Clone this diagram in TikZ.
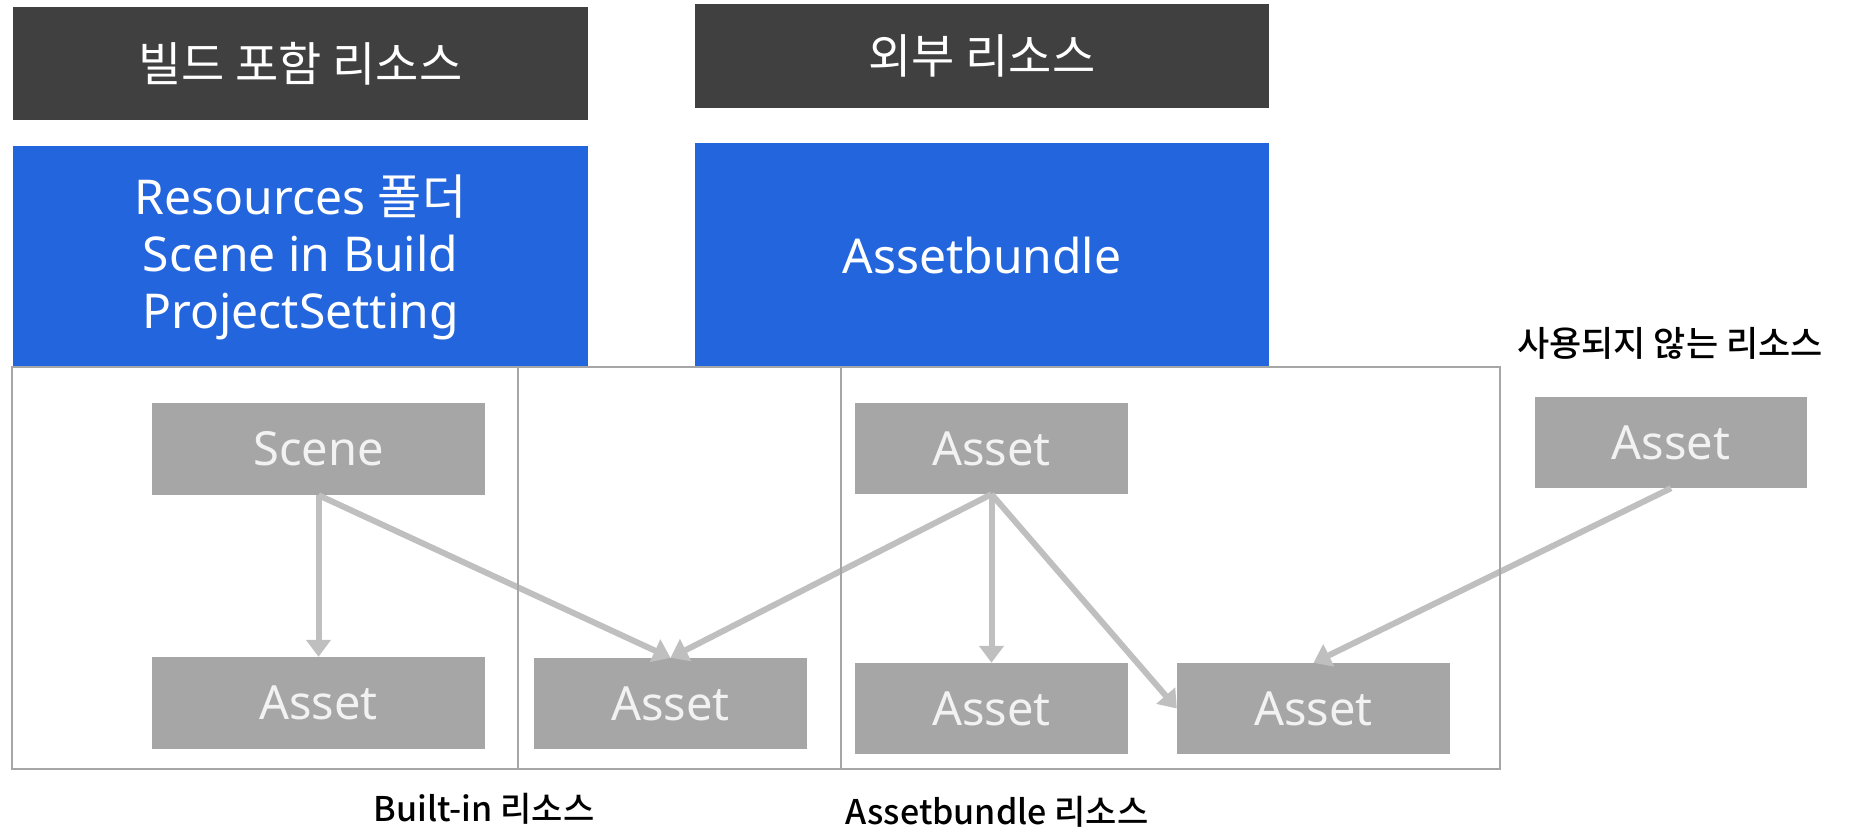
\documentclass[tikz,border=0pt]{standalone}
\usepackage{fontspec}
\setmainfont{Noto Sans}
\newfontfamily\kr{Noto Sans CJK KR}
\newfontfamily\krmed{Noto Sans CJK KR Medium}
\usetikzlibrary{arrows.meta}
\definecolor{titlegray}{HTML}{404040}
\definecolor{bandblue}{HTML}{2365DC}
\definecolor{assetgray}{HTML}{A6A6A6}
\definecolor{assettext}{HTML}{F2F2F2}
\definecolor{linkgray}{HTML}{BFBFBF}
\definecolor{framegray}{HTML}{A6A6A6}
\tikzset{
  titlebox/.style={fill=titlegray, text=white, inner sep=0pt, minimum width=575pt,
    font={\kr\fontsize{47pt}{54pt}\selectfont}},
  bandbox/.style={fill=bandblue, text=white, inner sep=0pt, minimum width=575pt,
    align=center, font={\fontsize{48pt}{57pt}\selectfont}},
  assetbox/.style={fill=assetgray, text=assettext, inner sep=0pt, minimum width=273pt,
    minimum height=91pt, font={\fontsize{47pt}{56pt}\selectfont}},
  caption/.style={text=black, inner sep=0pt, font={\krmed\fontsize{34pt}{40pt}\selectfont}},
  link/.style={draw=linkgray, line width=6pt,
    -{Triangle[length=17pt,width=24pt]}},
  frame/.style={draw=framegray, line width=2.5pt}
}
\begin{document}
\begin{tikzpicture}[x=1pt,y=-1pt]
\useasboundingbox (0,0) rectangle (1849,832);

% headings
\node[titlebox, minimum height=113pt] (hin) at (300.5,63.5) {빌드 포함 리소스};
\node[titlebox, minimum height=104pt, minimum width=574pt] (hout) at (982,56) {외부 리소스};

% blue bands
\node[bandbox, minimum height=222pt] (bin) at (300.5,257)
  {Resources {\kr 폴더}\\Scene in Build\\ProjectSetting};
\node[bandbox, minimum height=224pt, minimum width=574pt] (bout) at (982,255) {Assetbundle};

% assets
\node[assetbox, minimum width=333pt, minimum height=92pt] (scene) at (318.5,449) {Scene};
\node[assetbox, minimum width=333pt, minimum height=92pt] (a1) at (318.5,703) {Asset};
\node[assetbox] (a2) at (670.5,703.5) {Asset};
\node[assetbox] (a3) at (991.5,448.5) {Asset};
\node[assetbox] (a4) at (991.5,708.5) {Asset};
\node[assetbox] (a5) at (1313.5,708.5) {Asset};
\node[assetbox, minimum width=272pt] (a6) at (1671,442.5) {Asset};

% references
\draw[link] (scene.south) -- (a1.north);
\draw[link] (scene.south) -- (a2.north);
\draw[link] (a3.south) -- (a2.north);
\draw[link] (a3.south) -- (a4.north);
\draw[link] (a3.south) -- (a5.west);
\draw[link] (a6.south) -- (a5.north);

% resource regions
\coordinate (fa) at (12,367);
\coordinate (fb) at (1500,769);
\coordinate (d1t) at (518,367);
\coordinate (d1b) at (518,769);
\coordinate (d2t) at (841,367);
\coordinate (d2b) at (841,769);
\draw[frame] (fa) rectangle (fb);
\draw[frame] (d1t) -- (d1b);
\draw[frame] (d2t) -- (d2b);

% captions
\node[caption] (cbuilt) at (484,809) {Built-in 리소스};
\node[caption] (cbundle) at (997,812) {Assetbundle 리소스};
\node[caption, font={\krmed\fontsize{35pt}{40pt}\selectfont}] (cunused) at (1670,343) {사용되지 않는 리소스};
\end{tikzpicture}
\end{document}
